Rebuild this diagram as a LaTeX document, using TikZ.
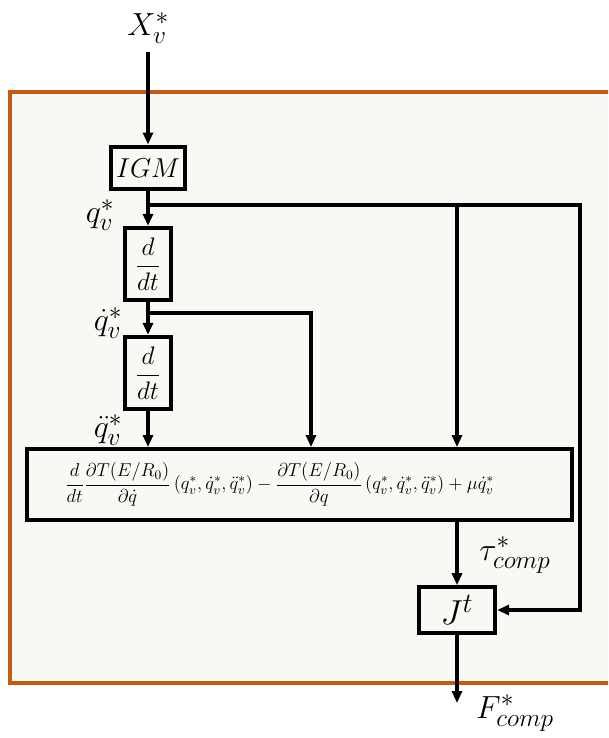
\documentclass[tikz,border=0pt]{standalone}
\usepackage{fix-cm}
\usepackage{amsmath}
\usetikzlibrary{arrows.meta, positioning, calc}
\definecolor{frame}{RGB}{197,90,17}
\definecolor{panel}{RGB}{247,249,245}
\DeclareMathSizes{24}{24}{19}{15}
\DeclareMathSizes{26}{26}{21}{16}

\begin{document}
\begin{tikzpicture}[x=0.75pt, y=-0.75pt, line width=2.6pt,
    >={Triangle[length=9pt, width=7.5pt]},
    blockbox/.style={draw, line width=3.2pt, inner sep=2pt, align=center,
      font=\fontsize{19}{22}\selectfont},
    sig/.style={font=\fontsize{24}{28}\selectfont, inner sep=1pt}]
  \useasboundingbox (0,0) rectangle (608,738);
  \clip (0,0) rectangle (608,738);

  % orange panel
  \draw[frame, fill=panel, line width=2.4pt] (10,92) rectangle (625,683);

  % blocks
  \node[blockbox, minimum width=55pt, minimum height=32pt,
        font=\fontsize{20.5}{24}\selectfont] (igm) at (148,168) {$IGM$};
  \node[blockbox, minimum width=35pt, minimum height=54pt] (ddt1) at (148,264) {$\dfrac{d}{dt}$};
  \node[blockbox, minimum width=35pt, minimum height=54pt] (ddt2) at (148,373) {$\dfrac{d}{dt}$};
  \node[blockbox, minimum width=409pt, minimum height=53pt,
        font=\fontsize{14}{17}\selectfont] (dyn) at (299.5,484.5)
    {$\dfrac{d}{dt}\dfrac{\partial T(E/R_0)}{\partial\dot{q}}\,(q_v^*,\dot{q}_v^*,\ddot{q}_v^*)
      -\dfrac{\partial T(E/R_0)}{\partial q}\,(q_v^*,\dot{q}_v^*,\ddot{q}_v^*)+\mu\dot{q}_v^*$\hspace{30pt}};
  \node[blockbox, minimum width=57pt, minimum height=34pt,
        font=\fontsize{26}{30}\selectfont] (jt) at (457,610) {$J^t$};

  % signals
  \node[sig] (xv) at (148,28) {$X_v^*$};
  \node[sig] (qv) at (100,215) {$q_v^*$};
  \node[sig] (qdv) at (108,323) {$\dot{q}_v^*$};
  \node[sig] (qddv) at (108,430) {$\ddot{q}_v^*$};
  \node[sig] (tau) at (515,555) {$\tau_{comp}^*$};
  \node[sig] (fc) at (515,713) {$F_{comp}^*$};

  \coordinate (xin) at (148,52);
  \coordinate (fout) at (457,703);
  \coordinate (tapq) at (148,205);
  \coordinate (qcorner) at (580,205);
  \coordinate (tapqd) at (148,313);
  \coordinate (qdcorner) at (311,313);

  % connectors
  \draw[->] (xin) -- (igm);
  \draw[->] (igm) -- (ddt1);
  \draw[->] (ddt1) -- (ddt2);
  \draw[->] (ddt2) -- (ddt2 |- dyn.north);
  \draw[->] (tapq) -- (qcorner) |- (jt.east);
  \draw[->] (tapq -| jt) -- (jt |- dyn.north);
  \draw[->] (tapqd) -- (qdcorner) -- (qdcorner |- dyn.north);
  \draw[->] (jt |- dyn.south) -- (jt);
  \draw[->] (jt) -- (fout);
\end{tikzpicture}
\end{document}
